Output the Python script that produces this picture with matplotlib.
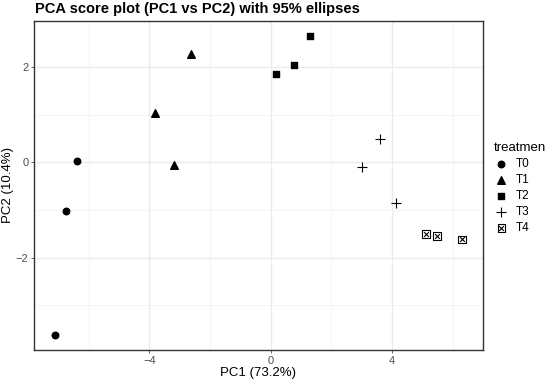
import matplotlib
matplotlib.use("Agg")
import matplotlib.pyplot as plt
from matplotlib.legend_handler import HandlerTuple

plt.rcParams['font.family'] = ['Liberation Sans', 'DejaVu Sans']

# PCA scores
t0_x = [-6.40, -6.75, -7.12]
t0_y = [0.03, -1.02, -3.63]
t1_x = [-3.81, -3.19, -2.64]
t1_y = [1.03, -0.06, 2.27]
t2_x = [0.19, 0.77, 1.29]
t2_y = [1.86, 2.04, 2.66]
t3_x = [3.02, 3.61, 4.14]
t3_y = [-0.09, 0.50, -0.86]
t4_x = [5.12, 5.48, 6.31]
t4_y = [-1.51, -1.55, -1.62]

groups = ["T0", "T1", "T2", "T3", "T4"]

fig = plt.figure(figsize=(5.5, 3.8), dpi=100)
ax = fig.add_axes([0.062, 0.079, 0.816, 0.866])

# ggplot theme_bw style grid
for v in [-6, -2, 2, 6]:
    ax.axvline(v, color="#f2f2f2", lw=0.5, zorder=0)
for v in [-3, -1, 1]:
    ax.axhline(v, color="#f2f2f2", lw=0.5, zorder=0)
for v in [-4, 0, 4]:
    ax.axvline(v, color="#ebebeb", lw=1.0, zorder=0)
for v in [-2, 0, 2]:
    ax.axhline(v, color="#ebebeb", lw=1.0, zorder=0)

h0 = ax.scatter(t0_x, t0_y, marker="o", s=22, color="black", zorder=3)
h1 = ax.scatter(t1_x, t1_y, marker="^", s=30, color="black", zorder=3)
h2 = ax.scatter(t2_x, t2_y, marker="s", s=24, color="black", zorder=3)
h3 = ax.scatter(t3_x, t3_y, marker="+", s=60, color="black", linewidths=0.8, zorder=3)
h4a = ax.scatter(t4_x, t4_y, marker="s", s=30, facecolors="none", edgecolors="black",
                 linewidths=0.8, zorder=3)
h4b = ax.scatter(t4_x, t4_y, marker="x", s=12, color="black", linewidths=0.8, zorder=3)

ax.set_xlim(-7.8, 7.0)
ax.set_ylim(-3.94, 2.97)
ax.set_xticks([-4, 0, 4])
ax.set_yticks([-2, 0, 2])
ax.set_xticklabels(["\u22124", "0", "4"])
ax.set_yticklabels(["\u22122", "0", "2"])
ax.tick_params(colors="#4d4d4d", labelsize=8, length=2.5, width=0.6, pad=1.5)
for s in ax.spines.values():
    s.set_color("#333333")
    s.set_linewidth(1.0)

ax.set_xlabel("PC1 (73.2%)", fontsize=9.5, labelpad=1)
ax.set_ylabel("PC2 (10.4%)", fontsize=9.5, labelpad=1)
fig.text(0.064, 0.975, "PCA score plot (PC1 vs PC2) with 95% ellipses",
         fontsize=10.5, fontweight="bold", va="center", ha="left")

leg = fig.legend([h0, h1, h2, h3, (h4a, h4b)], groups,
                 handler_map={tuple: HandlerTuple(ndivide=1, pad=0)},
                 title="treatmen", loc="upper left", bbox_to_anchor=(0.89, 0.64),
                 frameon=False, fontsize=8.5, title_fontsize=9.5,
                 handlelength=1.2, handletextpad=0.6, labelspacing=0.35,
                 borderaxespad=0)
leg._legend_box.align = "left"

fig.savefig("out.png", dpi=100)
